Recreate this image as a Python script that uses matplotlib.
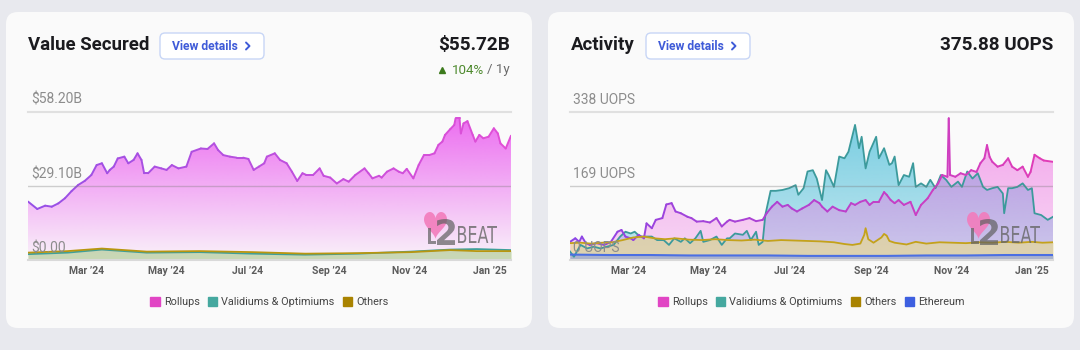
import numpy as np
import matplotlib
matplotlib.use('Agg')
import matplotlib.pyplot as plt
import matplotlib.dates as mdates
import matplotlib.colors as mcolors
from matplotlib.collections import LineCollection
from matplotlib.patches import FancyBboxPatch, Polygon, PathPatch, Patch
from matplotlib.textpath import TextPath
from matplotlib.font_manager import FontProperties
from matplotlib.transforms import Affine2D

plt.rcParams['font.family'] = ['Roboto', 'DejaVu Sans']

START = np.datetime64('2024-01-17')
END_DAY = 366

# ---- Value Secured (billions USD), day offsets from START ----
vs_days = [0, 7, 13, 18, 23, 28, 33, 38, 43, 48, 52, 56, 60, 62, 65, 68, 73, 76, 80, 83,
           86, 88, 91, 96, 101, 105, 109, 114, 120, 124, 131, 136, 141, 144, 148, 153, 158,
           163, 167, 171, 175, 179, 181, 187, 191, 196, 200, 204, 208, 211, 216, 221, 224,
           229, 234, 239, 243, 248, 255, 258, 261, 266, 268, 272, 277, 281, 284, 287, 292,
           296, 300, 304, 308, 311, 314, 316, 320, 323, 324, 327, 328, 330, 333, 337, 339,
           342, 345, 349, 353, 356, 358, 362, 366]
vs_rollups = [23.0, 20.1, 21.4, 21.0, 22.3, 24.3, 27.1, 29.5, 31.1, 33.4, 37.3, 38.0, 34.1,
              35.4, 36.7, 39.9, 40.6, 38.0, 39.3, 41.9, 39.3, 34.1, 34.1, 36.7, 36.0, 35.4,
              37.3, 36.0, 36.7, 42.5, 43.8, 43.6, 45.8, 43.2, 41.2, 40.6, 40.2, 40.2, 39.7,
              35.4, 36.7, 38.0, 40.6, 41.9, 39.3, 38.0, 34.7, 31.1, 34.1, 33.4, 33.4, 36.0,
              33.1, 32.4, 30.1, 31.8, 30.8, 33.4, 36.0, 34.1, 32.1, 33.1, 32.4, 34.7, 36.0,
              34.7, 34.1, 35.8, 32.1, 37.3, 41.2, 41.2, 41.9, 45.2, 46.5, 49.1, 51.4, 53.0,
              55.6, 55.6, 49.7, 53.6, 54.5, 49.1, 46.5, 49.1, 47.8, 48.4, 51.7, 49.7, 45.8,
              43.8, 48.8]
vs_small_days = [0, 30, 56, 90, 130, 170, 210, 250, 290, 320, 340, 366]
vs_others = [3.0, 3.6, 4.6, 3.4, 3.6, 3.2, 2.6, 2.8, 3.2, 4.0, 3.6, 3.6]
vs_validiums = [2.4, 3.0, 4.2, 3.0, 3.2, 2.6, 2.2, 2.6, 3.4, 4.2, 4.4, 4.0]

# ---- Activity (UOPS) ----
ac_roll_days = [0, 4, 7, 9, 12, 15, 20, 26, 31, 36, 39, 42, 46, 48, 52, 56, 58, 62, 65, 70,
                73, 77, 80, 84, 89, 92, 96, 101, 106, 111, 115, 119,
                121, 125, 131, 136, 141, 146, 149, 153, 157, 161, 165, 168, 172, 176, 181,
                185, 189, 191, 195, 199, 204, 209, 213, 216, 220, 224, 227, 230, 234, 238, 240,
                243, 246, 249, 253, 258, 262, 266, 271, 275, 279, 282, 286, 287, 288, 292, 296,
                300, 304, 308, 311, 314, 316, 318, 320, 324, 328, 332, 335, 339, 343, 347, 349,
                352, 356, 359, 366]
ac_rollups = [42, 50, 42, 54, 39, 35, 39, 35, 42, 65, 69, 54, 50, 46, 58, 50, 84, 73, 92, 96,
              127, 130, 111, 107, 99, 96, 88, 89, 86, 96, 77, 88,
              92, 88, 92, 96, 89, 92, 107, 122, 133, 122, 126, 118, 111, 118, 126,
              137, 130, 122, 111, 122, 114, 111, 130, 126, 133, 137, 126, 133, 133, 155, 149,
              137, 130, 137, 126, 133, 103, 126, 141, 160, 175, 194, 190, 323, 194, 190, 198,
              194, 205, 201, 221, 232, 262, 235, 224, 213, 217, 232, 213, 205, 213, 190, 201,
              240, 232, 227, 224]
ac_val_days = [0, 3, 8, 13, 18, 23, 28, 33, 38, 42, 46, 49, 53, 58, 62, 66, 71, 75, 79, 84,
               87, 91, 95, 99, 101, 106, 111, 115, 119,
               121, 125, 131, 134, 137, 141, 143, 146, 148, 152, 156, 161, 166, 171, 173, 177,
               180, 184, 187, 191, 194, 196, 200, 204, 208, 211, 216, 219, 221, 224, 227, 232,
               234, 238, 242,
               244, 246, 249, 253, 257, 260, 262, 266, 270, 273, 277, 281, 285, 289, 294, 297,
               301, 305, 309, 313, 316, 320, 324, 328, 329, 332, 335, 339, 343, 347, 350, 352,
               357, 362, 366]
ac_validiums = [20, 8, 35, 27, 31, 27, 31, 35, 54, 65, 61, 65, 54, 54, 54, 46, 46, 35, 50, 42,
                50, 39, 50, 67, 42, 46, 54, 35, 50,
                50, 61, 58, 67, 46, 65, 35, 42, 103, 158, 158, 160, 164, 171, 149, 164,
                202, 205, 186, 137, 205, 194, 167, 236, 232, 247, 308, 255, 281, 209, 247, 281,
                232, 255, 217,
                221, 236, 171, 194, 190, 221, 167, 175, 167, 183, 164, 194, 183, 167, 179, 167,
                202, 186, 198, 167, 160, 164, 167, 152, 107, 164, 164, 167, 175, 160, 164, 107,
                103, 92, 99]
ac_oth_days = [0, 8, 16, 24, 32, 40, 48, 56, 64, 72, 80, 90, 100, 110, 120, 130, 140, 150, 160,
               170, 180, 190, 200, 208, 214, 220, 223, 224, 226, 230, 236, 238, 240, 242, 246,
               255, 262, 270, 280, 290, 300, 310, 320, 330, 340, 350, 358, 366]
ac_others = [39, 40, 38, 40, 41, 46, 52, 54, 50, 48, 50, 47, 46, 48, 46, 45, 47, 44, 46,
             45, 44, 43, 41, 37, 35, 38, 58, 73, 48, 40, 52, 60, 56, 44, 40,
             36, 42, 38, 41, 40, 39, 41, 40, 42, 40, 42, 40, 41]
ac_eth_days = [0, 30, 60, 90, 120, 150, 180, 210, 240, 270, 300, 330, 366]
ac_ethereum = [13, 12, 12, 11, 11, 11, 10, 10, 10, 11, 11, 12, 12]

tick_dates = ['2024-03-01', '2024-05-01', '2024-07-01', '2024-09-01', '2024-11-01', '2025-01-01']
tick_labels = ["Mar \u201924", "May \u201924", "Jul \u201924", "Sep \u201924", "Nov \u201924", "Jan \u201925"]


def to_x(days):
    return mdates.date2num(START + np.array(days, dtype='timedelta64[D]'))


def grad_fill(ax, x, y, color, a_top, a_bot, ymax, z):
    img = np.zeros((256, 1, 4))
    img[..., :3] = mcolors.to_rgb(color)
    img[..., 3] = np.linspace(a_bot, a_top, 256)[:, None]
    im = ax.imshow(img, aspect='auto', origin='lower', interpolation='bilinear',
                   extent=[x.min(), x.max(), 0, ymax], zorder=z)
    verts = np.vstack([[x[0], 0], np.column_stack([x, y]), [x[-1], 0]])
    clip = Polygon(verts, closed=True, facecolor='none', edgecolor='none')
    ax.add_patch(clip)
    im.set_clip_path(clip)


def grad_line(ax, x, y, c0, c1, z):
    pts = np.column_stack([x, y]).reshape(-1, 1, 2)
    segs = np.concatenate([pts[:-1], pts[1:]], axis=1)
    cmap = mcolors.LinearSegmentedColormap.from_list('g', [c0, c1])
    lc = LineCollection(segs, cmap=cmap, linewidth=1.4, zorder=z, capstyle='round',
                        joinstyle='round')
    lc.set_array((x[:-1] - x[0]) / (x[-1] - x[0]))
    lc.set_clim(0, 1)
    ax.add_collection(lc)


def path_text(ax, s, x, y, w, h, color, alpha, weight='normal'):
    tp = TextPath((0, 0), s, size=20, prop=FontProperties(family='DejaVu Sans', weight=weight))
    ext = tp.get_extents()
    tr = (Affine2D().translate(-ext.x0, -ext.y1)
          .scale(w / ext.width, -h / ext.height).translate(x, y))
    ax.add_patch(PathPatch(tr.transform_path(tp), facecolor=color, edgecolor='none',
                           alpha=alpha, zorder=5))


def logo(ax, x0, y0):
    # heart outline (pixel coords, y down)
    t = np.linspace(0, 2 * np.pi, 100)
    hx = 16 * np.sin(t) ** 3
    hy = 13 * np.cos(t) - 5 * np.cos(2 * t) - 2 * np.cos(3 * t) - np.cos(4 * t)
    hx = x0 - 1 + (hx + 16) / 32 * 23
    hy = y0 + (5.5 - hy) / 22.5 * 21
    ax.fill(hx, hy, color='#f27cbc', alpha=0.9, lw=0, zorder=4)
    path_text(ax, 'L', x0 + 3, y0 + 10, 8, 16, '#606060', 0.7, 'bold')
    path_text(ax, '2', x0 + 12, y0 + 1, 18, 26, '#606060', 0.7, 'bold')
    path_text(ax, 'BEAT', x0 + 33, y0 + 8, 39, 17, '#666666', 0.8)


fig = plt.figure(figsize=(10.8, 3.5), dpi=100)
fig.patch.set_facecolor('#e8e9ee')
bg = fig.add_axes([0, 0, 1, 1], zorder=-1)
bg.set_xlim(0, 1080)
bg.set_ylim(350, 0)
bg.axis('off')

for cx in (6, 548):
    bg.add_patch(FancyBboxPatch((cx, 12), 526, 316, boxstyle='round,pad=0,rounding_size=12',
                                facecolor='#fafafa', edgecolor='none'))


def header(x_title, title, x_btn, x_right, value):
    bg.text(x_title, 45, title, fontsize=13.4, fontweight='bold', color='#1b1b1f',
            va='center', ha='left')
    bg.add_patch(FancyBboxPatch((x_btn, 33), 104, 26, boxstyle='round,pad=0,rounding_size=5',
                                facecolor='white', edgecolor='#c8d6f6', lw=1))
    bg.text(x_btn + 12, 46, 'View details', fontsize=8.7, fontweight='bold', color='#3f5bd8',
            va='center', ha='left')
    bg.plot([x_btn + 86, x_btn + 89.5, x_btn + 86], [42.5, 46, 49.5], color='#3f5bd8',
            lw=1.4, solid_capstyle='round')
    bg.text(x_right, 45, value, fontsize=13.6, fontweight='bold', color='#1b1b1f',
            va='center', ha='right')


header(28, 'Value Secured', 160, 510, '$55.72B')
header(571, 'Activity', 646, 1053, '375.88 UOPS')
bg.text(510, 70, '/ 1y', fontsize=9.6, color='#6a6a6a', va='center', ha='right')
bg.text(484, 70, '104%', fontsize=9.6, color='#4e8a2e', va='center', ha='right')
bg.plot([442], [69.5], marker='^', color='#3c7a1c', markersize=4.5)


def chart(left_px, ymax, ylabels):
    ax = fig.add_axes([left_px / 1080, 1 - 260.3 / 350, 483 / 1080, 148.6 / 350])
    ax.set_facecolor('none')
    for s in ax.spines.values():
        s.set_visible(False)
    ax.axhline(ymax, color='#e0e0e0', lw=1.5, zorder=1, clip_on=False)
    ax.axhline(ymax / 2, color='#7a7a7a', alpha=0.35, lw=1, zorder=6)
    ax.axhline(0, color='#d9d9d9', lw=1.5, zorder=7, clip_on=False)
    for v, lab in zip([ymax, ymax / 2, 0], ylabels):
        ax.annotate(lab, (0, v), xycoords=('axes fraction', 'data'), xytext=(3, 12),
                    textcoords='offset pixels', fontsize=10, color='#8c8c8c',
                    va='center', ha='left', zorder=10)
    ax.set_yticks([])
    ax.set_xticks(mdates.date2num(np.array(tick_dates, dtype='datetime64[D]')))
    ax.set_xticklabels(tick_labels, fontsize=7.5, fontweight='bold', color='#5c5c5c')
    ax.tick_params(axis='x', length=0, pad=4)
    return ax


legend_kw = dict(loc='center', bbox_to_anchor=(0.5, -0.28), frameon=False, fontsize=7.8,
                 handlelength=0.85, handleheight=0.85, handletextpad=0.4, columnspacing=0.75,
                 labelcolor='#444444')

# ---- left chart ----
ax1 = chart(28, 58.2, ['$58.20B', '$29.10B', '$0.00'])
x = to_x(vs_days)
grad_fill(ax1, x, np.array(vs_rollups), '#ea58ef', 0.9, 0.05, 58.2, 2)
xs = to_x(vs_small_days)
ax1.fill_between(xs, vs_others, color='#cfc24a', alpha=0.35, lw=0, zorder=3)
ax1.fill_between(xs, vs_validiums, color='#7cc7a8', alpha=0.3, lw=0, zorder=3)
ax1.plot(xs, vs_validiums, color='#3f9f9a', lw=1.3, zorder=4)
ax1.plot(xs, vs_others, color='#b8960f', lw=1.3, zorder=4)
grad_line(ax1, x, np.array(vs_rollups), '#9650e6', '#e24fd6', 5)
ax1.set_xlim(to_x([0])[0], to_x([END_DAY])[0])
ax1.set_ylim(0, 58.2)
ax1.legend(handles=[Patch(color='#e145c4', label='Rollups'),
                    Patch(color='#45a89f', label='Validiums & Optimiums'),
                    Patch(color='#a98300', label='Others')], ncol=3, **legend_kw)

# ---- right chart ----
ax2 = chart(570, 338, ['338 UOPS', '169 UOPS', '0 UOPS'])
xr = to_x(ac_roll_days)
xv = to_x(ac_val_days)
xo = to_x(ac_oth_days)
xe = to_x(ac_eth_days)
grad_fill(ax2, xv, np.array(ac_validiums, float), '#45bcd8', 0.75, 0.3, 338, 2)
grad_fill(ax2, xr, np.array(ac_rollups, float), '#ee6fe2', 0.65, 0.25, 338, 3)
ax2.fill_between(xo, ac_others, color='#eadb88', alpha=0.6, lw=0, zorder=4)
ax2.fill_between(xe, ac_ethereum, color='#6d8cf0', alpha=0.45, lw=0, zorder=4)
ax2.plot(xv, ac_validiums, color='#3c9a9c', lw=1.3, zorder=5)
grad_line(ax2, xr, np.array(ac_rollups, float), '#8c45e6', '#e23cb6', 5)
ax2.plot(xo, ac_others, color='#c4a21a', lw=1.3, zorder=5)
ax2.plot(xe, ac_ethereum, color='#4b6fe3', lw=1.5, zorder=5)
ax2.set_xlim(to_x([0])[0], to_x([END_DAY])[0])
ax2.set_ylim(0, 338)
ax2.legend(handles=[Patch(color='#e145c4', label='Rollups'),
                    Patch(color='#45a89f', label='Validiums & Optimiums'),
                    Patch(color='#a98300', label='Others'),
                    Patch(color='#3d5fe0', label='Ethereum')], ncol=4, **legend_kw)

# watermark drawn above the chart fills
top = fig.add_axes([0, 0, 1, 1], zorder=5)
top.set_xlim(0, 1080)
top.set_ylim(350, 0)
top.axis('off')
logo(top, 425, 218)
logo(top, 968, 218)

fig.savefig('out.png', dpi=100, facecolor=fig.get_facecolor())
